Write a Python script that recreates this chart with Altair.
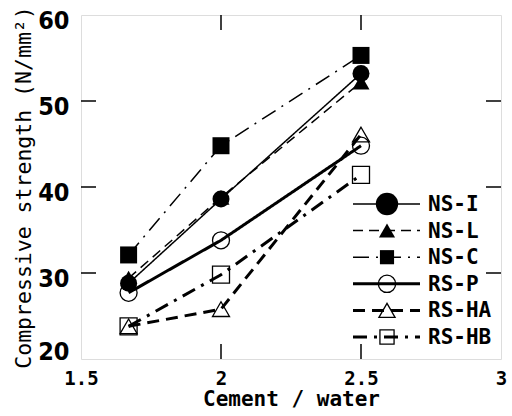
import altair as alt
import pandas as pd

# ---- data ----
cement_water = [1.67, 2.0, 2.5]
series_names = ["NS-I", "NS-L", "NS-C", "RS-P", "RS-HA", "RS-HB"]
ns_i = [28.8, 38.6, 53.2]
ns_l = [29.4, 38.8, 52.2]
ns_c = [32.1, 44.8, 55.3]
rs_p = [27.7, 33.8, 44.8]
rs_ha = [23.8, 25.8, 46.1]
rs_hb = [23.8, 29.8, 41.4]
x_ticks = [1.5, 2, 2.5, 3]
y_ticks = [20, 30, 40, 50, 60]
x_inner_ticks = [2, 2.5]
y_inner_ticks = [30, 40, 50]

values = {"NS-I": ns_i, "NS-L": ns_l, "NS-C": ns_c,
          "RS-P": rs_p, "RS-HA": rs_ha, "RS-HB": rs_hb}
rows = []
for name in series_names:
    for cw, s in zip(cement_water, values[name]):
        rows.append({"cw": cw, "strength": s, "series": name})
df = pd.DataFrame(rows)

# ---- styles ----
W, H = 420, 344
COND = "DejaVu Sans Condensed, sans-serif"
MONO = "DejaVu Sans Mono, monospace"
styles = {
    "NS-I": dict(dash=[1, 0], width=1.5, shape="circle", filled=True, lsize=500),
    "NS-L": dict(dash=[10, 6], width=1.5, shape="triangle-up", filled=True, lsize=260),
    "NS-C": dict(dash=[16, 7, 2, 7], width=1.5, shape="square", filled=True, lsize=200),
    "RS-P": dict(dash=[1, 0], width=3, shape="circle", filled=False, lsize=300),
    "RS-HA": dict(dash=[12, 7], width=3, shape="triangle-up", filled=False, lsize=260),
    "RS-HB": dict(dash=[14, 7, 3, 7], width=3, shape="square", filled=False, lsize=200),
}

xscale = alt.Scale(domain=[1.5, 3], nice=False, zero=False)
yscale = alt.Scale(domain=[20, 60], nice=False, zero=False)

x_enc = alt.X("cw:Q", scale=xscale, title="Cement / water",
              axis=alt.Axis(values=x_ticks, format="~g", ticks=False, domain=False,
                            grid=False, labelFont=MONO, labelFontSize=19,
                            labelFontWeight="bold", labelPadding=10,
                            titleFont=MONO, titleFontSize=21, titleFontWeight="bold",
                            titlePadding=0, labelFlush=False))
y_enc = alt.Y("strength:Q", scale=yscale, title="Compressive strength (N/mm²)",
              axis=alt.Axis(values=y_ticks, ticks=False, domain=False, grid=False,
                            labelFont=COND, labelFontSize=25, labelFontWeight="bold",
                            labelPadding=12, labelOffset=5,
                            labelBaseline=alt.expr("datum.value == 20 ? 'bottom' : 'middle'"),
                            titleFont=MONO, titleFontSize=21.5, titleFontWeight="normal",
                            titlePadding=2, labelFlush=False))

layers = []
for name in series_names:
    st = styles[name]
    base = alt.Chart(df).transform_filter(alt.datum.series == name)
    layers.append(base.mark_line(color="black", strokeWidth=st["width"],
                                 strokeDash=st["dash"]).encode(x=x_enc, y=y_enc))
for name in series_names:
    st = styles[name]
    base = alt.Chart(df).transform_filter(alt.datum.series == name)
    layers.append(base.mark_point(shape=st["shape"], size=289, filled=st["filled"],
                                  color="black", opacity=1,
                                  strokeWidth=1.3).encode(x=x_enc, y=y_enc))

# inward ticks
xt = pd.DataFrame({"v": x_inner_ticks})
yt = pd.DataFrame({"v": y_inner_ticks})
for y0, y1 in [(H, H - 15), (0, 15)]:
    layers.append(alt.Chart(xt).mark_rule(color="black", strokeWidth=1.5).encode(
        x=alt.X("v:Q", scale=xscale), y=alt.value(y0), y2=alt.value(y1)))
for x0, x1 in [(0, 15), (W, W - 15)]:
    layers.append(alt.Chart(yt).mark_rule(color="black", strokeWidth=1.5).encode(
        y=alt.Y("v:Q", scale=yscale), x=alt.value(x0), x2=alt.value(x1)))

# legend
leg_top, leg_step = 189, 26.6
for i, name in enumerate(series_names):
    st = styles[name]
    ry = leg_top + i * leg_step
    ldf = pd.DataFrame({"series": [name]})
    lb = alt.Chart(ldf)
    layers.append(lb.mark_rule(color="black", strokeWidth=st["width"],
                               strokeDash=st["dash"]).encode(
        x=alt.value(272), x2=alt.value(339), y=alt.value(ry)))
    layers.append(lb.mark_point(shape=st["shape"], size=st["lsize"], filled=st["filled"],
                                color="black", opacity=1, strokeWidth=1.3).encode(
        x=alt.value(306), y=alt.value(ry)))
    layers.append(lb.mark_text(align="left", baseline="middle", font=MONO,
                               fontSize=21, fontWeight="bold", color="black").encode(
        x=alt.value(347), y=alt.value(ry + 1), text="series:N"))

chart = alt.layer(*layers).properties(
    width=W, height=H,
    autosize=alt.AutoSizeParams(type="none"),
    padding={"left": 81, "top": 15, "right": 11, "bottom": 57},
).configure_view(stroke="black", strokeWidth=2.5).configure(background="white")

chart.save("out.html", embed_options={"renderer": "svg", "actions": False})
